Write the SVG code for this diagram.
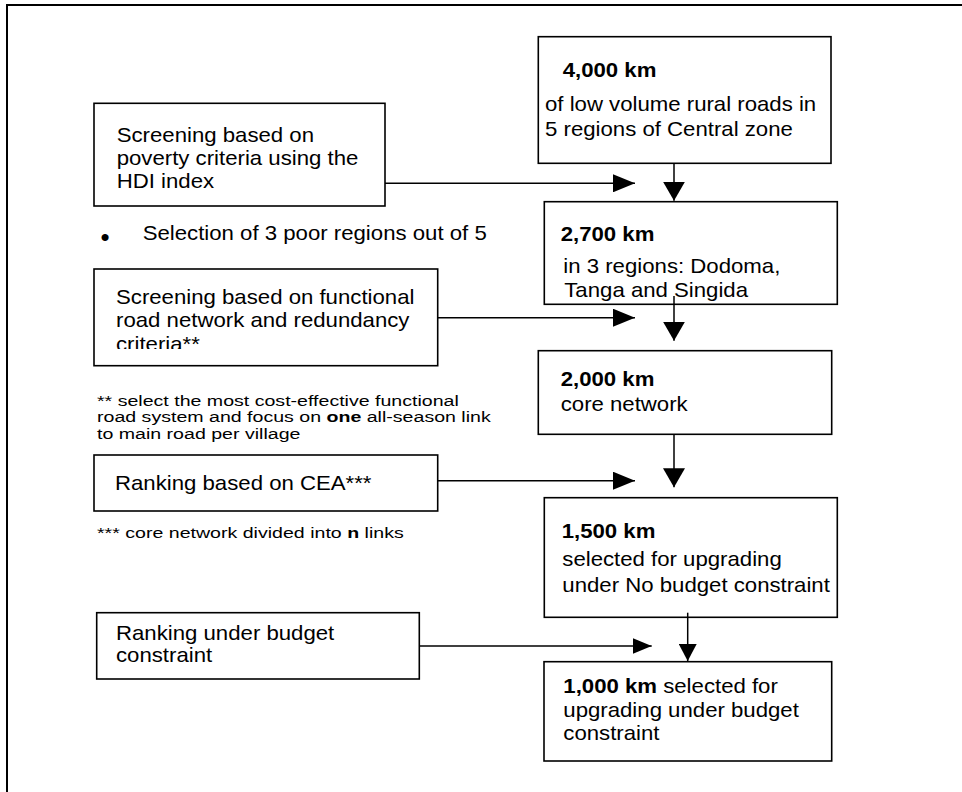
<svg xmlns="http://www.w3.org/2000/svg" width="962" height="792" viewBox="0 0 962 792">
<style>
.box{fill:#fff;stroke:#000;stroke-width:1.6}
.t{font-family:"Liberation Sans",Arial,sans-serif;font-size:20px;fill:#000}
.fn{font-size:14.5px}
.b{font-weight:bold}
.conn path{fill:none;stroke:#000;stroke-width:1.5}
</style>
<defs>
<marker id="ah" markerUnits="userSpaceOnUse" markerWidth="22" markerHeight="18" refX="22" refY="9" orient="auto"><path d="M0,0 L22,9 L0,18 Z" fill="#000"/></marker>
<marker id="av" markerUnits="userSpaceOnUse" markerWidth="19" markerHeight="22" refX="19" refY="11" orient="auto"><path d="M0,0 L19,11 L0,22 Z" fill="#000"/></marker>
<marker id="ah2" markerUnits="userSpaceOnUse" markerWidth="19" markerHeight="16" refX="19" refY="8" orient="auto"><path d="M0,0 L19,8 L0,16 Z" fill="#000"/></marker>
<marker id="av2" markerUnits="userSpaceOnUse" markerWidth="17" markerHeight="18" refX="17" refY="9" orient="auto"><path d="M0,0 L17,9 L0,18 Z" fill="#000"/></marker>
<clipPath id="clipF"><rect x="94" y="269" width="344" height="80"/></clipPath>
</defs>
<path d="M7,800 V5 H970" fill="none" stroke="#000" stroke-width="2"/>

<g id="n-4000">
<rect class="box" x="538.3" y="36.7" width="292.7" height="126.6"/>
<text class="t b" transform="translate(562.7,76.7) scale(1.11,1)">4,000 km</text>
<text class="t" transform="translate(545,111) scale(1.11,1)"><tspan x="0" y="0">of low volume rural roads in</tspan><tspan x="0" y="25">5 regions of Central zone</tspan></text>
</g>

<g id="n-poverty">
<rect class="box" x="94" y="103.3" width="291" height="102.7"/>
<text class="t" transform="translate(116.7,141.7) scale(1.11,1)"><tspan x="0" y="0">Screening based on</tspan><tspan x="0" y="23.3">poverty criteria using the</tspan><tspan x="0" y="46.6">HDI index</tspan></text>
</g>

<g id="n-selection">
<text class="t" x="105" y="245.5" text-anchor="middle" style="font-size:26px">•</text>
<text class="t" transform="translate(142.7,240) scale(1.11,1)">Selection of 3 poor regions out of 5</text>
</g>

<g id="n-2700">
<rect class="box" x="544.3" y="201.7" width="293" height="102.6"/>
<text class="t b" transform="translate(560.7,240.7) scale(1.11,1)">2,700 km</text>
<text class="t" transform="translate(563.3,273.3) scale(1.11,1)"><tspan x="0" y="0">in 3 regions: Dodoma,</tspan><tspan x="0.9" y="23.4">Tanga and Singida</tspan></text>
</g>

<g id="n-functional">
<rect class="box" x="94" y="269" width="343.7" height="96.7"/>
<g clip-path="url(#clipF)">
<text class="t" transform="translate(116,304) scale(1.11,1)"><tspan x="0" y="0">Screening based on functional</tspan><tspan x="0" y="23.5">road network and redundancy</tspan><tspan x="0" y="47.5">criteria**</tspan></text>
</g>
</g>

<g id="n-footnote2">
<text class="t fn" transform="translate(97,405.5) scale(1.35,1)"><tspan x="0" y="0">**  select the most cost-effective functional</tspan><tspan x="0" y="17">road system and focus on <tspan class="b">one</tspan> all-season link</tspan><tspan x="0" y="34">to main road per village</tspan></text>
</g>

<g id="n-2000">
<rect class="box" x="538.3" y="350.7" width="293.4" height="83.6"/>
<text class="t b" transform="translate(560.7,386) scale(1.11,1)">2,000 km</text>
<text class="t" transform="translate(560.7,411) scale(1.11,1)">core network</text>
</g>

<g id="n-cea">
<rect class="box" x="94" y="455" width="343.7" height="56"/>
<text class="t" transform="translate(115,489.7) scale(1.11,1)">Ranking based on CEA***</text>
</g>

<g id="n-footnote3">
<text class="t fn" transform="translate(97,538.3) scale(1.35,1)">*** core network divided into <tspan class="b">n</tspan> links</text>
</g>

<g id="n-1500">
<rect class="box" x="544.3" y="497.7" width="293" height="119.6"/>
<text class="t b" transform="translate(561.7,538.3) scale(1.11,1)">1,500 km</text>
<text class="t" transform="translate(562.3,565.7) scale(1.11,1)"><tspan x="0" y="0">selected for upgrading</tspan><tspan x="0" y="26">under No budget constraint</tspan></text>
</g>

<g id="n-budget">
<rect class="box" x="96.7" y="612.7" width="322.6" height="66.3"/>
<text class="t" transform="translate(116,639.5) scale(1.11,1)"><tspan x="0" y="0">Ranking under budget</tspan><tspan x="0" y="23">constraint</tspan></text>
</g>

<g id="n-1000">
<rect class="box" x="544" y="661.7" width="287.7" height="99.3"/>
<text class="t" transform="translate(563.3,693) scale(1.11,1)"><tspan x="0" y="0"><tspan class="b">1,000 km</tspan> selected for</tspan><tspan x="0" y="23.7">upgrading under budget</tspan><tspan x="0" y="47">constraint</tspan></text>
</g>

<g id="connectors" class="conn">
<path d="M385,183.3 H635" marker-end="url(#ah)"/>
<path d="M674,163.3 V200.7" marker-end="url(#av)"/>
<path d="M437.7,317.7 H635" marker-end="url(#ah)"/>
<path d="M674,296 V340.7" marker-end="url(#av)"/>
<path d="M437.7,480.7 H635" marker-end="url(#ah)"/>
<path d="M674,434.3 V487.3" marker-end="url(#av)"/>
<path d="M419.3,646 H651.7" marker-end="url(#ah2)"/>
<path d="M687.7,612.7 V661" marker-end="url(#av2)"/>
</g>
</svg>
